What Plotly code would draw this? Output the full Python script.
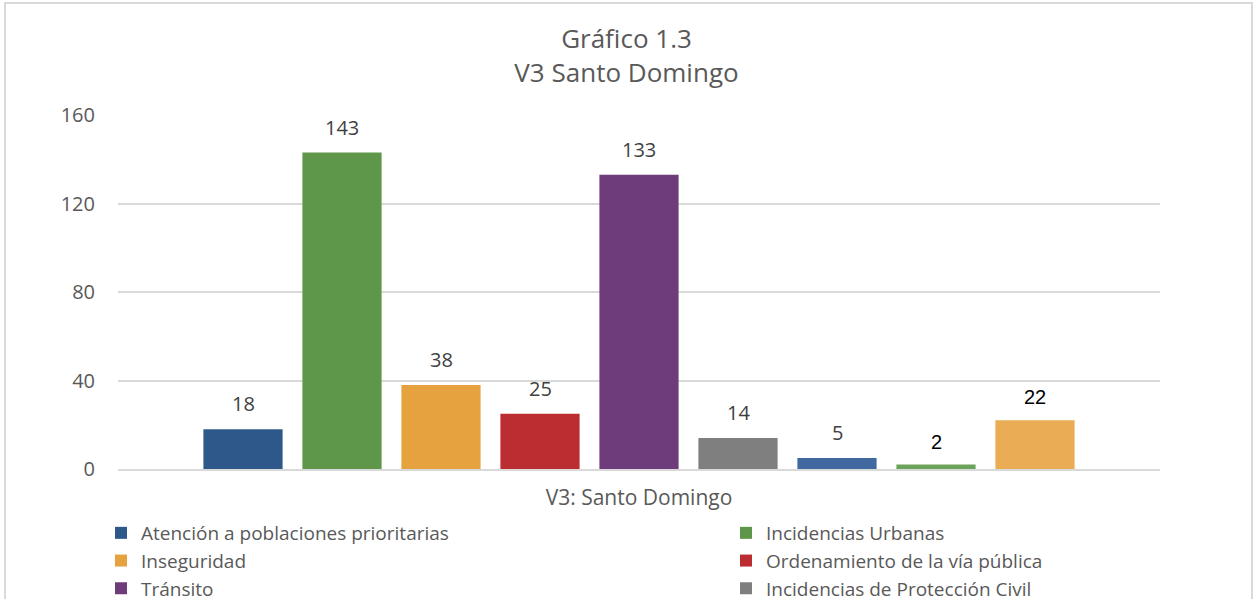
import plotly.graph_objects as go

category = ["V3: Santo Domingo"]
series_names = [
    "Atención a poblaciones prioritarias",
    "Incidencias Urbanas",
    "Inseguridad",
    "Ordenamiento de la vía pública",
    "Tránsito",
    "Incidencias de Protección Civil",
    "Serie 7",
    "Serie 8",
    "Serie 9",
]
values = [18, 143, 38, 25, 133, 14, 5, 2, 22]
colors = ["#2E5889", "#5E9749", "#E6A23E", "#BC2D32", "#6E3C7A", "#7F7F7F",
          "#41699F", "#6BA35B", "#EAAC55"]
label_colors = ["#404040"] * 7 + ["#000000", "#000000"]
label_fonts = ["Open Sans"] * 7 + ["Liberation Sans", "Liberation Sans"]
legend_slot = ["legend", "legend2", "legend", "legend2", "legend", "legend2", None, None, None]

W, H = 1253, 599
L, R, T, B = 118, 1160, 115, 469
pw, ph = R - L, B - T
slot_px = 99          # distance between neighbouring bars, in pixels
bar_frac = 0.8        # bar width as fraction of the slot

def px(x):
    return (x - L) / pw

def py(y):
    return (B - y) / ph

positions = list(range(len(values)))
center = (len(values) - 1) / 2
half_span = pw / slot_px / 2

fig = go.Figure()
for pos, name, v, c, slot in zip(positions, series_names, values, colors, legend_slot):
    fig.add_trace(go.Bar(
        x=[pos], y=[v], name=name, marker_color=c, marker_line_width=0,
        width=bar_frac, showlegend=slot is not None, legend=slot or "legend",
    ))

annotations = []
for pos, v, lc, lf in zip(positions, values, label_colors, label_fonts):
    annotations.append(dict(x=pos, y=v, xref="x", yref="y", text=str(v), showarrow=False,
                            yanchor="bottom", yshift=10,
                            font=dict(size=20, color=lc, family=lf)))

legend_common = dict(orientation="v", yanchor="top", xanchor="left",
                     font=dict(size=19, color="#595959", family="Open Sans"),
                     itemwidth=30, tracegroupgap=0, bgcolor="rgba(0,0,0,0)",
                     borderwidth=0)

fig.update_layout(
    width=W, height=H,
    margin=dict(l=L, r=W - R, t=T, b=H - B, autoexpand=False),
    paper_bgcolor="white", plot_bgcolor="white",
    barmode="overlay",
    font=dict(family="Open Sans", color="#595959", size=19),
    title=dict(text="Gráfico 1.3<br>V3 Santo Domingo", x=0.5, xanchor="center",
               y=1 - 48 / H, yanchor="middle",
               font=dict(size=26, color="#595959", family="Open Sans")),
    xaxis=dict(range=[center - half_span, center + half_span],
               tickvals=[center], ticktext=category,
               showline=True, linecolor="#D9D9D9", linewidth=2, ticks="", showgrid=False,
               zeroline=False,
               tickfont=dict(size=21, color="#595959"), ticklabelstandoff=9),
    yaxis=dict(range=[0, 160], dtick=40, showgrid=True, gridcolor="#D9D9D9", gridwidth=2,
               zeroline=False, ticks="", tickfont=dict(size=20, color="#595959"),
               ticklabelstandoff=22),
    legend=dict(x=px(101), y=py(514), **legend_common),
    legend2=dict(x=px(726), y=py(514), **legend_common),
    annotations=annotations,
    shapes=[dict(type="rect", xref="paper", yref="paper",
                 x0=px(5), x1=px(1252), y0=py(3), y1=py(640),
                 line=dict(color="#D9D9D9", width=2), layer="below")],
)

fig.write_html("out.html", config={"displayModeBar": False},
               post_script="document.body.style.margin='0';")
